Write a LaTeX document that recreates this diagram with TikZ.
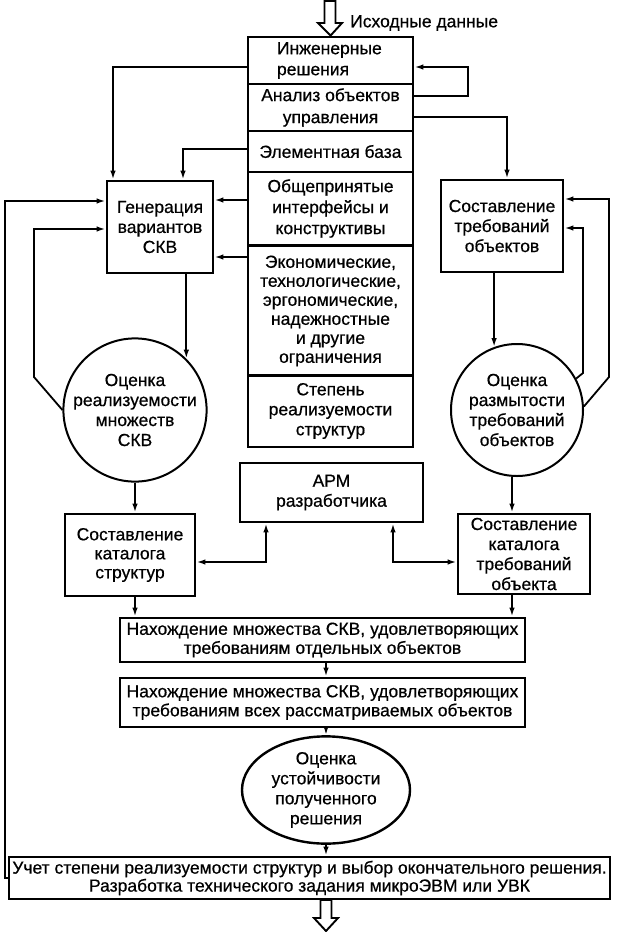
\documentclass[tikz,border=0pt]{standalone}
\usepackage{fontspec}
\setmainfont{Liberation Sans}[BoldFont={Liberation Sans},BoldFeatures={FakeBold=0.6}]
\usetikzlibrary{arrows.meta,shapes.geometric}
\newcommand\fsz[1]{\fontsize{17.5}{#1}\selectfont\bfseries}
\begin{document}
\begin{tikzpicture}[x=1pt,y=-1pt,
  box/.style={draw, line width=2.8pt, align=center, inner sep=0pt, font=\fsz{20}},
  cbox/.style={box, minimum width=165pt},
  circ/.style={draw, circle, line width=2pt, align=center, inner sep=0pt, font=\fsz{20}},
  conn/.style={line width=1.8pt},
  arr/.style={conn, -{Latex[length=9pt,width=5.5pt]}},
  dbl/.style={conn, {Latex[length=9pt,width=5.5pt]}-{Latex[length=9pt,width=5.5pt]}},
  hollow/.style={draw, line width=1.9pt, fill=white, line join=miter},
  txt/.style={inner sep=0pt, font=\fsz{20}}
]
\useasboundingbox (0,0) rectangle (616,932);

% central column
\node[cbox, minimum height=47pt, text width=107pt, align=left, font=\fsz{21}] (c1) at (330.5,60.5) {Инженерные\\решения};
\node[cbox, minimum height=47pt, font=\fsz{22}] (c2) at (330.5,107.5) {Анализ объектов\\управления};
\node[cbox, minimum height=41pt] (c3) at (330.5,151.5) {Элементная база};
\node[cbox, minimum height=73pt, font=\fsz{21}] (c4) at (330.5,208.5) {Общепринятые\\интерфейсы и\\конструктивы};
\node[cbox, minimum height=130pt, font=\fsz{19}] (c5) at (330.5,311) {Экономические,\\технологические,\\эргономические,\\надежностные\\и другие\\ограничения};
\node[cbox, minimum height=72pt] (c6) at (330.5,411) {Степень\\реализуемости\\структур};

% top input
\node[txt, anchor=west] (inp) at (350,23) {Исходные данные};
\draw[hollow] (324.5,1) -- (335.5,1) -- (335.5,23) -- (342,23) -- (c1.north) -- (318,23) -- (324.5,23) -- cycle;

% side boxes
\node[box, minimum width=106pt, minimum height=92pt] (gen) at (160,227) {Генерация\\вариантов\\СКВ};
\node[box, minimum width=122pt, minimum height=92pt] (rbox) at (502,226) {Составление\\требований\\объектов};
\node[circ, minimum size=128pt] (lc) at (135,410) {Оценка\\реализуемости\\множеств\\СКВ};
\node[circ, minimum size=132pt] (rc) at (517,410) {Оценка\\размытости\\требований\\объектов};
\node[box, minimum width=183pt, minimum height=59pt] (arm) at (331.5,492.5) {АРМ\\разработчика};
\node[box, minimum width=130pt, minimum height=82pt, font=\fsz{19}] (lcat) at (130,555) {Составление\\каталога\\структур};
\node[box, minimum width=132pt, minimum height=80pt, font=\fsz{20}] (rcat) at (524,554) {Составление\\каталога\\требований\\объекта};
\node[box, minimum width=405pt, minimum height=44pt, font=\fsz{19}] (n1) at (322.5,640) {Нахождение множества СКВ, удовлетворяющих\\требованиям отдельных объектов};
\node[box, minimum width=405pt, minimum height=49pt, font=\fsz{19}] (n2) at (322.5,702.5) {Нахождение множества СКВ, удовлетворяющих\\требованиям всех рассматриваемых объектов};
\node[draw, ellipse, line width=2.4pt, minimum width=168pt, minimum height=88pt, inner sep=0pt, align=center, font=\fsz{20}] (ell) at (326,790) {Оценка\\устойчивости\\полученного\\решения};
\node[box, minimum width=601pt, minimum height=42pt, font=\fsz{18}] (bot) at (309.5,878) {Учет степени реализуемости структур и выбор окончательного решения.\\Разработка технического задания микроЭВМ или УВК};
\draw[hollow] (320.5,900) -- (331.5,900) -- (331.5,918) -- (338,918) -- (326,931) -- (314,918) -- (320.5,918) -- cycle;

% helper coordinates
\coordinate (L1) at (113,67);
\coordinate (L3) at (183,149);
\coordinate (Y4) at (0,200);
\coordinate (Y5) at (0,257);
\coordinate (R1) at (468,96);
\coordinate (R2) at (468,67);
\coordinate (R3) at (507,117);
\coordinate (FL) at (5,201);
\coordinate (IL) at (34,377);
\coordinate (IL2) at (34,229);
\coordinate (RI) at (583,373);
\coordinate (RI2) at (583,228);
\coordinate (RO) at (609,377);
\coordinate (RO2) at (609,199);
\coordinate (A1) at (266,562);
\coordinate (A2) at (393,562);
\coordinate (XR) at (512,0);

% connectors
\draw[arr] (c1.west |- L1) -- (L1) -- (gen.north -| L1);
\draw[arr] (c3.west |- L3) -- (L3) -- (gen.north -| L3);
\draw[arr] (c4.west |- Y4) -- (gen.east |- Y4);
\draw[arr] (c5.west |- Y5) -- (gen.east |- Y5);
\draw[arr] (c2.east |- R1) -- (R1) -- (R2) -- (c1.east |- R2);
\draw[arr] (c2.east |- R3) -- (R3) -- (rbox.north -| R3);
\draw[arr] (bot.west) -| (FL) -- (gen.west |- FL);
\draw[arr] (lc.west) -- (IL) -- (IL2) -- (gen.west |- IL2);
\draw[arr] (rc.28) -- (RI) -- (RI2) -- (rbox.east |- RI2);
\draw[arr] (rc.3) -- (RO) -- (RO2) -- (rbox.east |- RO2);
\draw[arr] (gen.south -| lc.45) -- (lc.45);
\draw[arr] (rbox.south -| rc.110) -- (rc.110);
\draw[arr] (lc.south) -- (lcat.north -| lc.south);
\draw[arr] (rc.south -| XR) -- (rcat.north -| XR);
\draw[dbl] (arm.south -| A1) |- (lcat.east |- A1);
\draw[dbl] (arm.south -| A2) |- (rcat.west |- A2);
\draw[arr] (lcat.south -| lc.south) -- (n1.north -| lc.south);
\draw[arr] (rcat.south -| XR) -- (n1.north -| XR);
\draw[arr] (n1.south -| ell.north) -- (n2.north -| ell.north);
\draw[arr] (n2.south -| ell.north) -- (ell.north);
\draw[arr] (ell.south) -- (bot.north -| ell.south);
\end{tikzpicture}
\end{document}
